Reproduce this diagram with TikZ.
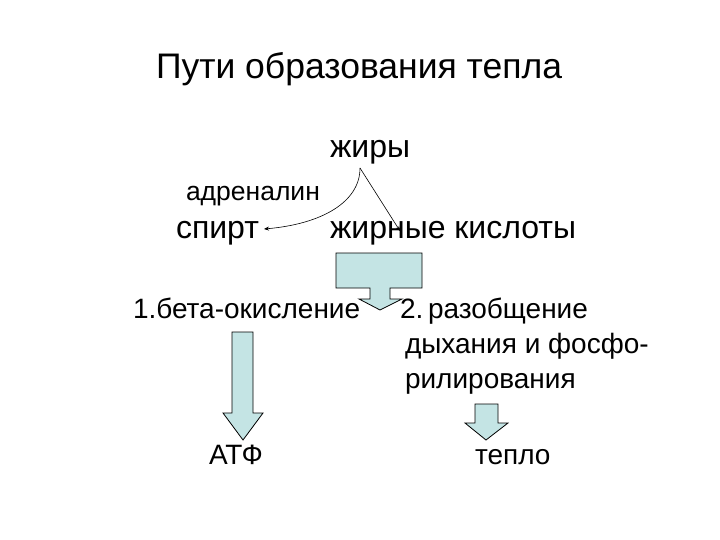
\documentclass[tikz,border=0pt]{standalone}
\usepackage{fontspec}
\setmainfont{Liberation Sans}
\usetikzlibrary{arrows.meta}
\definecolor{arrowfill}{HTML}{C4E4E4}
\tikzset{
  lbl/.style={anchor=base west, inner sep=0pt, outer sep=0pt, font=\fontsize{28}{30}\selectfont},
  big/.style={anchor=base west, inner sep=0pt, outer sep=0pt, font=\fontsize{32}{34}\selectfont},
  small/.style={anchor=base west, inner sep=0pt, outer sep=0pt, font=\fontsize{26.5}{28}\selectfont},
  ttl/.style={anchor=base west, inner sep=0pt, outer sep=0pt, font=\fontsize{35.5}{38}\selectfont},
  blockarrow/.style={draw=black, line width=0.8pt, fill=arrowfill, line join=miter},
  conn/.style={line width=0.6pt, -{Stealth[length=5pt,width=4pt]}}
}
\begin{document}
\begin{tikzpicture}[x=1pt,y=-1pt]
\useasboundingbox (0,0) rectangle (720,540);
\node[ttl] (title) at (156,79) {Пути образования тепла};
\node[big] (fats) at (330,158) {жиры};
\node[small] (adr) at (186,201) {адреналин};
\node[big] (alc) at (176,239) {спирт};
\node[big] (fa) at (330,239) {жирные кислоты};
\node[lbl] (beta) at (133,318) {1.бета-окисление};
\node[lbl] (unc1) at (400,318) {2.\,разобщение};
\node[lbl] (unc2) at (405,353) {дыхания и фосфо-};
\node[lbl] (unc3) at (405,388) {рилирования};
\node[lbl] (atp) at (209,464) {АТФ};
\node[lbl] (heat) at (475,464) {тепло};
% connectors
\coordinate (apex) at (360,168);
\coordinate (faend) at (400,231);
\coordinate (alcend) at (264,229);
\draw[conn] (apex) -- (faend);
\draw[conn] (apex) .. controls (360,202) and (322,224) .. (alcend);
% block arrows
\draw[blockarrow] (336,253) -- (422,253) -- (422,288) -- (390,288) -- (390,299) -- (402,299) -- (380,310) -- (359,299) -- (370,299) -- (370,288) -- (336,288) -- cycle;
\draw[blockarrow] (232,332) -- (253,332) -- (253,413) -- (263,413) -- (243,440) -- (223,413) -- (232,413) -- cycle;
\draw[blockarrow] (475,404) -- (498,404) -- (498,423) -- (508,423) -- (486,440) -- (465,423) -- (475,423) -- cycle;
\end{tikzpicture}
\end{document}
